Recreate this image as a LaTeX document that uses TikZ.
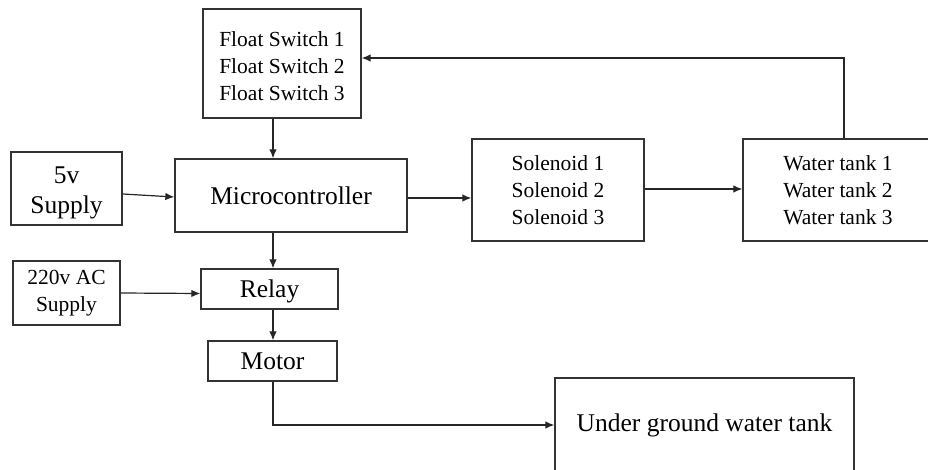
\documentclass[tikz,border=0pt]{standalone}
\usepackage{fontspec}
\setmainfont{Liberation Serif}
\usetikzlibrary{arrows.meta}
\begin{document}
\begin{tikzpicture}[x=1pt,y=-1pt,
  box/.style={draw=black!80, line width=1.3pt, inner sep=0pt, align=center, font=\fontsize{21.5}{27}\selectfont},
  bigbox/.style={box, font=\fontsize{25.5}{29}\selectfont},
  txt/.style={align=center, inner sep=0pt, font=\fontsize{21.5}{27}\selectfont},
  bigtxt/.style={txt, font=\fontsize{25.5}{30}\selectfont},
  conn/.style={line width=1.2pt, draw=black!85, -{Latex[length=9pt,width=7.5pt]}}]
\useasboundingbox (0,0) rectangle (928,470);
\clip (0,0) rectangle (928,470);
\coordinate (col) at (273,0);
\node[box, minimum width=158pt, minimum height=109pt,
  label={[txt, yshift=-3pt]center:Float Switch 1\\Float Switch 2\\Float Switch 3}] (fs) at (282,63.5) {};
\node[bigbox, minimum width=232pt, minimum height=73pt] (mc) at (291,195.5) {Microcontroller};
\node[bigbox, minimum width=111pt, minimum height=73pt,
  label={[bigtxt, yshift=-4pt]center:5v\\Supply}] (sup) at (66.5,188.5) {};
\node[box, minimum width=172pt, minimum height=102pt] (sol) at (558,190) {Solenoid 1\\Solenoid 2\\Solenoid 3};
\node[box, minimum width=190pt, minimum height=102pt] (wt) at (838,190) {Water tank 1\\Water tank 2\\Water tank 3};
\node[box, minimum width=107pt, minimum height=64pt] (ac) at (66.5,293) {220v AC\\Supply};
\node[bigbox, minimum width=137pt, minimum height=40pt,
  label={[bigtxt, yshift=-2pt]center:Relay}] (relay) at (269.5,289) {};
\node[bigbox, minimum width=129pt, minimum height=40pt] (motor) at (272.5,361) {Motor};
\node[bigbox, minimum width=299pt, minimum height=94pt] (ug) at (704.5,425) {Under ground water tank};
\draw[conn] (fs.south -| col) -- (mc.north -| col);
\draw[conn] (mc.south -| col) -- (relay.north -| col);
\draw[conn] (relay.south -| col) -- (motor.north -| col);
\draw[conn] ([yshift=-5.5pt]sup.east) -- ([yshift=-1.5pt]mc.west);
\draw[conn] (ac.east) -- ([yshift=-4.5pt]relay.west);
\draw[conn] ([yshift=-2.5pt]mc.east) -- ([yshift=-8pt]sol.west);
\draw[conn] ([yshift=1pt]sol.east) -- ([yshift=1pt]wt.west);
\draw[conn] ([xshift=6pt]wt.north) |- ([yshift=5.5pt]fs.east);
\draw[conn] (motor.south -| col) |- (ug.west);
\end{tikzpicture}
\end{document}
